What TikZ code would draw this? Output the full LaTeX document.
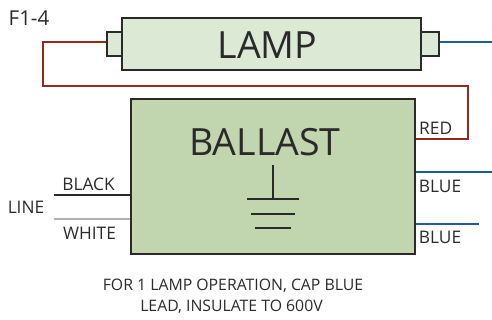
\documentclass[tikz,border=0pt]{standalone}
\usepackage{fontspec}
\setmainfont{Open Sans}
\definecolor{lampfill}{HTML}{DBE9D5}
\definecolor{ballastfill}{HTML}{C1D5AF}
\definecolor{wirered}{HTML}{96281B}
\definecolor{wireblue}{HTML}{1B5E9B}
\definecolor{ink}{HTML}{2A2A2A}
\definecolor{wirewhite}{HTML}{B0B0B0}
\tikzset{
  lampbox/.style={draw=ink,line width=1.7pt,fill=lampfill,inner sep=0pt,minimum width=299pt,minimum height=52pt},
  capbox/.style={draw=ink,line width=1.7pt,fill=lampfill,inner sep=0pt,minimum width=15pt,minimum height=24pt},
  ballastbox/.style={draw=ink,line width=2pt,fill=ballastfill,inner sep=0pt,minimum width=284pt,minimum height=155pt},
  wire/.style={line width=2pt},
  groundbar/.style={draw=ink,line width=2pt},
  lbl/.style={text=ink,inner sep=0pt,font=\fontsize{17.3}{20}\selectfont},
  note/.style={text=ink,inner sep=0pt,font=\fontsize{15.8}{18}\selectfont},
  title/.style={text=ink,inner sep=0pt,font=\fontsize{37.5}{44}\selectfont}
}
\begin{document}
\begin{tikzpicture}[x=1pt,y=-1pt]
\useasboundingbox (0,0) rectangle (492,320);
% lamp
\node[capbox] (capL) at (114.5,44) {};
\node[capbox,minimum width=18pt] (capR) at (430,44) {};
\node[lampbox] (lamp) at (271.5,44) {};
\node[title] (lamptxt) at (267.5,45) {LAMP};
% ballast
\node[ballastbox] (ballast) at (273,176.5) {};
\node[title] (balltxt) at (265,142) {BALLAST};
% free ends and bends
\coordinate (capLw) at (capL.west |- 0,42.5);
\coordinate (capRw) at (capR.east |- 0,42.5);
\coordinate (blueEnd) at (492,42.5);
\coordinate (r1) at (43.3,42.5);
\coordinate (r2) at (43.3,86);
\coordinate (r3) at (468.3,86);
\coordinate (r4) at (468.3,139.3);
\coordinate (rS) at (ballast.east |- 0,139.3);
\coordinate (b1S) at (ballast.east |- 0,172);
\coordinate (b1E) at (492,172);
\coordinate (b2S) at (ballast.east |- 0,224.3);
\coordinate (b2E) at (479,224.3);
\coordinate (kE) at (54,195.3);
\coordinate (kS) at (ballast.west |- 0,195.3);
\coordinate (wE) at (54,219);
\coordinate (wS) at (ballast.west |- 0,219);
% wires
\draw[wire,wirered,line join=miter] (capLw) -- (r1) -- (r2) -- (r3) -- (r4) -- (rS);
\draw[wire,wireblue] (capRw) -- (blueEnd);
\draw[wire,wireblue] (b1S) -- (b1E);
\draw[wire,wireblue] (b2S) -- (b2E);
\draw[wire,ink] (kE) -- (kS);
\draw[wire,wirewhite] (wE) -- (wS);
% ground
\coordinate (g0) at (272.7,165);
\coordinate (g1) at (272.7,199.3);
\draw[groundbar] (g0) -- (g1);
\draw[groundbar] (247,199.3) -- (298.6,199.3);
\draw[groundbar] (251,213.7) -- (295,213.7);
\draw[groundbar] (254.5,228.3) -- (291,228.3);
% labels
\node[lbl,font=\fontsize{20.5}{24}\selectfont] (f14) at (29,18.5) {F1-4};
\node[lbl] (red) at (435.7,128.5) {RED};
\node[lbl] (blue1) at (440,186.5) {BLUE};
\node[lbl] (blue2) at (440,237.5) {BLUE};
\node[lbl] (black) at (88.5,184.5) {BLACK};
\node[lbl] (white) at (89.5,233) {WHITE};
\node[lbl] (line) at (26,207.5) {LINE};
\node[note] (note1) at (233,286) {FOR 1 LAMP OPERATION, CAP BLUE};
\node[note] (note2) at (231.5,307) {LEAD, INSULATE TO 600V};
\end{tikzpicture}
\end{document}
